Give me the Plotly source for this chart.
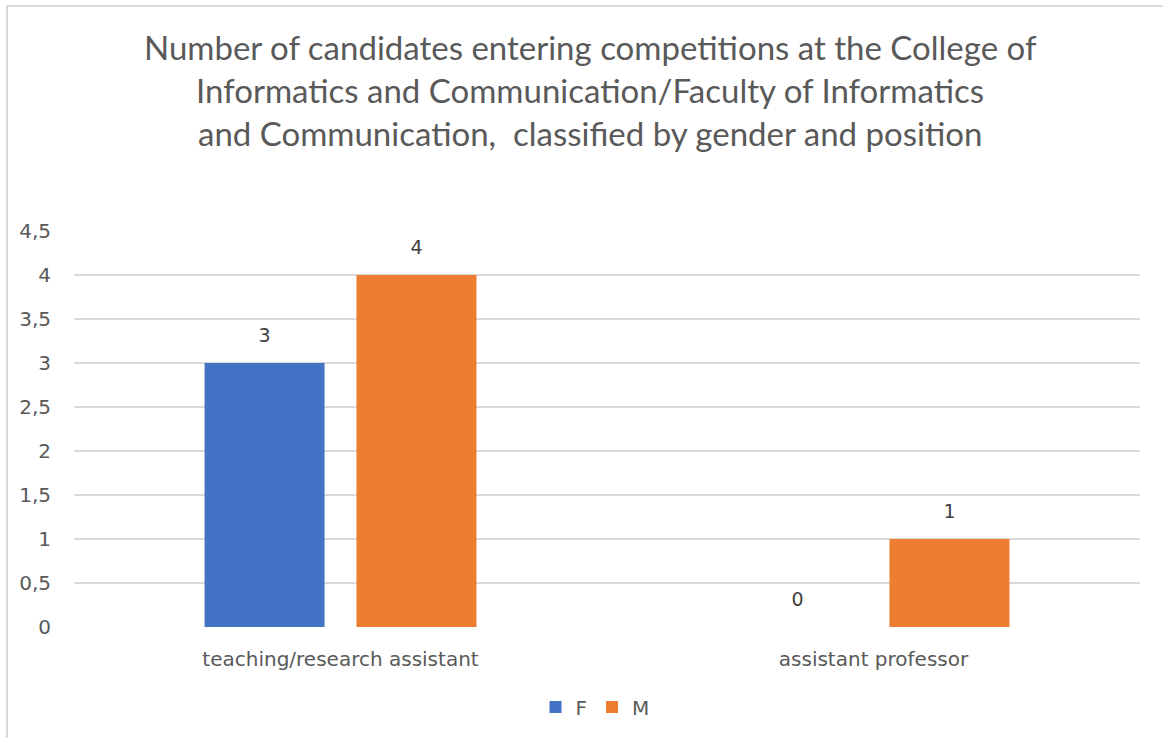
# Candidates entering competitions, by gender and position.
import plotly.graph_objects as go

# ---- Data ----
positions = ["teaching/research assistant", "assistant professor"]
female = [3, 0]
male = [4, 1]
y_ticks = [0, 0.5, 1, 1.5, 2, 2.5, 3, 3.5, 4, 4.5]
title_lines = [
    "Number of candidates entering competitions at the College of",
    "Informatics and Communication/Faculty of Informatics",
    "and Communication,  classified by gender and position",
]

# ---- Style ----
BLUE = "#4472C4"
ORANGE = "#ED7D31"
TEXT = "#595959"
LABEL = "#404040"
GRID = "#D9D9D9"
FONT = "DejaVu Sans, Verdana, sans-serif"
TITLE_FONT = "Lato, Open Sans, sans-serif"

fig = go.Figure()
for name, vals, color in [("F", female, BLUE), ("M", male, ORANGE)]:
    fig.add_trace(go.Bar(
        name=name,
        x=positions,
        y=vals,
        offsetgroup=name,
        marker=dict(color=color, line=dict(width=0)),
        hoverinfo="x+y+name",
    ))

# Value labels: invisible markers push the text a bit above each bar
for name, vals in [("F", female), ("M", male)]:
    fig.add_trace(go.Scatter(
        x=positions,
        y=vals,
        offsetgroup=name,
        mode="markers+text",
        text=[str(v) for v in vals],
        textposition="top center",
        textfont=dict(color=LABEL, size=19, family=FONT),
        marker=dict(size=24, color="rgba(0,0,0,0)"),
        showlegend=False,
        hoverinfo="skip",
        cliponaxis=False,
    ))

# Title as separate lines to mimic the wide line spacing
for i, line in enumerate(title_lines):
    fig.add_annotation(
        text=line, xref="paper", yref="paper",
        x=(590 - 74) / 1066, y=(627 - (47 + 43 * i)) / 396,
        xanchor="center", yanchor="middle", showarrow=False,
        font=dict(family=TITLE_FONT, size=33, color=TEXT),
    )

# Left/top border of the chart box
fig.add_shape(
    type="rect", xref="paper", yref="paper",
    x0=(7 - 74) / 1066, x1=1.2, y0=-0.4, y1=(627 - 6) / 396,
    line=dict(color=GRID, width=2), fillcolor="rgba(0,0,0,0)",
)

fig.update_layout(
    width=1163, height=738,
    separators=",.",
    barmode="group",
    scattermode="group",
    bargap=0.43,
    bargroupgap=0.21,
    paper_bgcolor="white",
    plot_bgcolor="white",
    font=dict(family=FONT, color=TEXT, size=20),
    margin=dict(l=74, r=23, t=231, b=111),
    xaxis=dict(
        showgrid=False, zeroline=False, showline=False,
        ticks="", ticklabelstandoff=18,
        tickfont=dict(size=20, color=TEXT),
    ),
    yaxis=dict(
        range=[0, 4.5], tickvals=y_ticks,
        gridcolor=GRID, gridwidth=1.5, zeroline=False, showline=False,
        ticks="", ticklabelstandoff=22,
        tickfont=dict(size=20, color=TEXT),
    ),
    legend=dict(
        orientation="h", x=(595 - 74) / 1066, xanchor="center",
        y=-0.202, yanchor="middle",
        font=dict(size=20, color=TEXT),
        itemwidth=30,
    ),
)

fig.write_html(
    "out.html",
    config={"displayModeBar": False},
    post_script="document.body.style.margin='0';",
)
